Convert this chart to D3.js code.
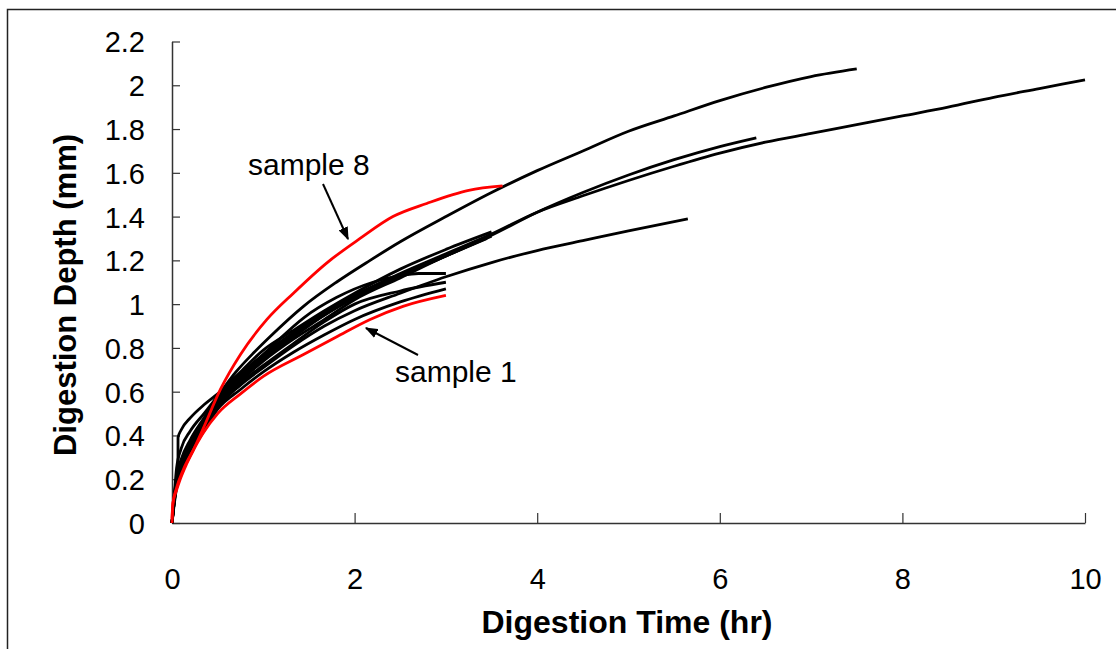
<!DOCTYPE html>
<html lang="en">
<head>
<meta charset="utf-8">
<style>
  body { margin: 0; background: #fff; }
  svg { display: block; font-family: "Liberation Sans", Arial, sans-serif; }
</style>
</head>
<body>
<script src="https://d3js.org/d3.v7.min.js"></script>
<svg width="1116" height="649"></svg>
<script>
  // time (hr) and depth (mm) for each sample run
  var tA = [0, 0.02, 0.05, 0.1, 0.2, 0.35, 0.5, 0.75, 1, 1.33, 1.67, 2, 2.5, 3, 3.5, 4, 4.5, 5, 5.5, 6, 6.5, 7, 7.5, 8, 8.5, 9, 9.5, 10];
  var dA = [0, 0.1, 0.2, 0.28, 0.37, 0.47, 0.57, 0.68, 0.77, 0.87, 0.96, 1.04, 1.14, 1.23, 1.32, 1.42, 1.495, 1.565, 1.63, 1.69, 1.74, 1.78, 1.82, 1.86, 1.90, 1.945, 1.985, 2.025];

  var tB = [0, 0.02, 0.05, 0.1, 0.2, 0.35, 0.5, 0.7, 0.9, 1.07, 1.44, 1.8, 2.17, 2.5, 3, 3.5, 4, 4.5, 5, 5.5, 6, 6.5, 7, 7.5];
  var dB = [0, 0.1, 0.25, 0.34, 0.42, 0.5, 0.58, 0.69, 0.78, 0.85, 0.99, 1.10, 1.20, 1.285, 1.40, 1.51, 1.61, 1.70, 1.79, 1.86, 1.93, 1.99, 2.04, 2.075];

  var tC = [0, 0.02, 0.05, 0.1, 0.2, 0.35, 0.5, 0.75, 1, 1.33, 1.67, 2, 2.5, 3, 3.5, 4, 4.5, 5, 5.5, 6, 6.4];
  var dC = [0, 0.09, 0.19, 0.27, 0.36, 0.46, 0.56, 0.67, 0.76, 0.86, 0.95, 1.03, 1.13, 1.22, 1.315, 1.42, 1.51, 1.59, 1.66, 1.72, 1.76];

  var tD = [0, 0.02, 0.05, 0.1, 0.2, 0.35, 0.5, 0.75, 1, 1.33, 1.67, 2, 2.5, 3, 3.5, 4, 4.5, 5, 5.65];
  var dD = [0, 0.08, 0.18, 0.26, 0.34, 0.44, 0.53, 0.63, 0.71, 0.81, 0.90, 0.97, 1.05, 1.125, 1.19, 1.245, 1.29, 1.335, 1.39];

  var tE = [0, 0.03, 0.065, 0.066, 0.1, 0.2, 0.35, 0.5, 0.7, 0.9, 1.1, 1.45, 1.8, 2.2, 2.5, 2.7, 3.0];
  var dE = [0, 0.12, 0.21, 0.39, 0.425, 0.48, 0.54, 0.59, 0.66, 0.73, 0.81, 0.94, 1.03, 1.10, 1.13, 1.14, 1.14];

  var tF = [0, 0.02, 0.05, 0.1, 0.2, 0.35, 0.5, 0.75, 1, 1.33, 1.67, 2, 2.5, 3, 3.5];
  var dF = [0, 0.1, 0.21, 0.29, 0.38, 0.48, 0.58, 0.69, 0.79, 0.88, 0.97, 1.05, 1.16, 1.25, 1.33];

  var tG = [0, 0.02, 0.05, 0.1, 0.2, 0.35, 0.5, 0.75, 1, 1.33, 1.67, 2, 2.5, 3, 3.45];
  var dG = [0, 0.09, 0.2, 0.28, 0.37, 0.46, 0.56, 0.66, 0.75, 0.85, 0.95, 1.03, 1.13, 1.22, 1.30];

  var tH = [0, 0.02, 0.05, 0.1, 0.2, 0.35, 0.5, 0.75, 1, 1.33, 1.67, 2, 2.5, 3, 3.5];
  var dH = [0, 0.08, 0.18, 0.26, 0.35, 0.45, 0.55, 0.65, 0.74, 0.84, 0.93, 1.02, 1.12, 1.22, 1.31];

  var tI = [0, 0.02, 0.05, 0.1, 0.2, 0.35, 0.5, 0.75, 1, 1.33, 1.67, 2, 2.5, 3];
  var dI = [0, 0.07, 0.16, 0.24, 0.32, 0.42, 0.52, 0.61, 0.69, 0.78, 0.86, 0.93, 1.01, 1.07];

  var tJ = [0, 0.02, 0.05, 0.1, 0.2, 0.35, 0.5, 0.75, 1, 1.33, 1.67, 2, 2.5, 3];
  var dJ = [0, 0.08, 0.17, 0.25, 0.33, 0.43, 0.54, 0.64, 0.72, 0.82, 0.92, 1.0, 1.06, 1.10];

  // sample 1 and sample 8 (red)
  var tS1 = [0, 0.01, 0.05, 0.12, 0.23, 0.34, 0.5, 0.75, 1.0, 1.44, 1.8, 2.17, 2.53, 3.0];
  var dS1 = [0, 0.09, 0.16, 0.24, 0.33, 0.41, 0.50, 0.59, 0.67, 0.77, 0.85, 0.93, 0.99, 1.04];

  var tS8 = [0, 0.01, 0.05, 0.09, 0.16, 0.23, 0.34, 0.53, 0.75, 1.04, 1.33, 1.7, 2.06, 2.42, 2.79, 3.25, 3.62];
  var dS8 = [0.02, 0.09, 0.15, 0.2, 0.27, 0.33, 0.43, 0.61, 0.77, 0.93, 1.05, 1.19, 1.30, 1.40, 1.46, 1.52, 1.54];

  var xTicks = [0, 2, 4, 6, 8, 10];
  var yTicks = [0, 0.2, 0.4, 0.6, 0.8, 1, 1.2, 1.4, 1.6, 1.8, 2, 2.2];

  var series = [
    { t: tA, d: dA, color: "black" },
    { t: tB, d: dB, color: "black" },
    { t: tC, d: dC, color: "black" },
    { t: tD, d: dD, color: "black" },
    { t: tE, d: dE, color: "black" },
    { t: tF, d: dF, color: "black" },
    { t: tG, d: dG, color: "black" },
    { t: tH, d: dH, color: "black" },
    { t: tI, d: dI, color: "black" },
    { t: tJ, d: dJ, color: "black" },
    { t: tS1, d: dS1, color: "#ff0000" },
    { t: tS8, d: dS8, color: "#ff0000" }
  ];

  var svg = d3.select("svg");

  // outer frame (only top and left edges fall inside the picture)
  svg.append("rect")
    .attr("x", 7.5).attr("y", 9.5)
    .attr("width", 1200).attr("height", 700)
    .attr("fill", "none")
    .attr("stroke", "#222")
    .attr("stroke-width", 1.5);

  var x = d3.scaleLinear().domain([0, 10]).range([172, 1085]);
  var y = d3.scaleLinear().domain([0, 2.2]).range([523, 41.5]);

  var gx = svg.append("g")
    .attr("transform", "translate(0,523)")
    .call(d3.axisBottom(x).tickValues(xTicks).tickSizeInner(-10).tickSizeOuter(0).tickPadding(45)
      .tickFormat(d3.format("d")));
  var gy = svg.append("g")
    .attr("transform", "translate(172,0)")
    .call(d3.axisLeft(y).tickValues(yTicks).tickSizeInner(-8).tickSizeOuter(0).tickPadding(27)
      .tickFormat(function (d) { return d3.format("")(+d.toFixed(1)); }));

  [gx, gy].forEach(function (g) {
    g.select(".domain").attr("stroke", "#333").attr("stroke-width", 1.5);
    g.selectAll(".tick line").attr("stroke", "#333").attr("stroke-width", 1.2);
    g.selectAll(".tick text")
      .attr("fill", "#000")
      .attr("font-size", "29px")
      .attr("font-family", "Liberation Sans, Arial, sans-serif");
  });
  gy.selectAll(".tick text").attr("dy", "0.36em");

  var line = d3.line()
    .x(function (p) { return x(p[0]); })
    .y(function (p) { return y(p[1]); })
    .curve(d3.curveMonotoneX);

  svg.append("g").selectAll("path")
    .data(series)
    .enter().append("path")
    .attr("d", function (s) { return line(d3.zip(s.t, s.d)); })
    .attr("fill", "none")
    .attr("stroke", function (s) { return s.color; })
    .attr("stroke-width", 2.8)
    .attr("stroke-linejoin", "round");

  // axis titles
  svg.append("text")
    .attr("x", 627).attr("y", 633)
    .attr("text-anchor", "middle")
    .attr("font-size", "32px")
    .attr("font-weight", "bold")
    .text("Digestion Time (hr)");

  svg.append("text")
    .attr("transform", "translate(76,295) rotate(-90)")
    .attr("text-anchor", "middle")
    .attr("font-size", "31px")
    .attr("font-weight", "bold")
    .text("Digestion Depth (mm)");

  // annotations
  svg.append("defs").append("marker")
    .attr("id", "head")
    .attr("viewBox", "0 0 10 10")
    .attr("refX", 9).attr("refY", 5)
    .attr("markerWidth", 13).attr("markerHeight", 10)
    .attr("markerUnits", "userSpaceOnUse")
    .attr("orient", "auto")
    .attr("preserveAspectRatio", "none")
    .append("path")
    .attr("d", "M0,0L10,5L0,10z")
    .attr("fill", "black");

  svg.append("text")
    .attr("x", 248).attr("y", 175)
    .attr("font-size", "30px")
    .text("sample 8");
  svg.append("line")
    .attr("x1", 323).attr("y1", 184)
    .attr("x2", 348).attr("y2", 239)
    .attr("stroke", "black").attr("stroke-width", 2)
    .attr("marker-end", "url(#head)");

  svg.append("text")
    .attr("x", 395).attr("y", 382)
    .attr("font-size", "30px")
    .text("sample 1");
  svg.append("line")
    .attr("x1", 418).attr("y1", 355)
    .attr("x2", 366).attr("y2", 328)
    .attr("stroke", "black").attr("stroke-width", 2)
    .attr("marker-end", "url(#head)");
</script>
</body>
</html>
